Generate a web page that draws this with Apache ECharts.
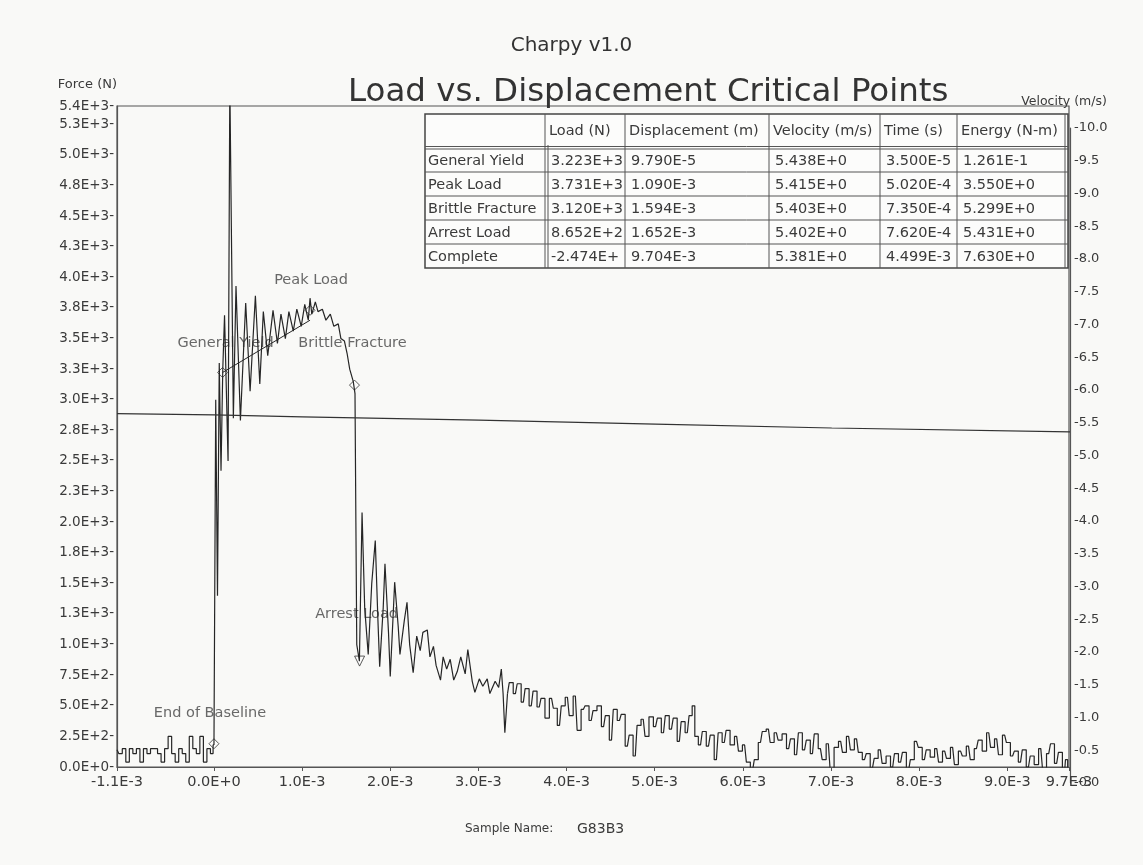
<!DOCTYPE html>
<html>
<head>
<meta charset="utf-8">
<title>Charpy v1.0 - Load vs. Displacement Critical Points</title>
<script src="https://cdn.jsdelivr.net/npm/echarts@6/dist/echarts.min.js"></script>
<style>
  html, body { margin: 0; padding: 0; background: #f9f9f7; }
  #chart { width: 1143px; height: 865px; }
</style>
</head>
<body>
<div id="chart"></div>
<script>
/* ---------- values ---------- */

// load trace: [displacement in mm (x1E-3 m), force in N]
const baselineTrace = [
  [-1.10, 140], [-1.06, 110], [-1.02, 150], [-0.98, 40], [-0.94, 150], [-0.90, 110],
  [-0.86, 150], [-0.82, 40], [-0.78, 150], [-0.74, 110], [-0.70, 150], [-0.66, 150],
  [-0.62, 110], [-0.58, 40], [-0.54, 150], [-0.50, 250], [-0.46, 110], [-0.42, 40],
  [-0.38, 150], [-0.34, 110], [-0.30, 40], [-0.26, 250], [-0.22, 150], [-0.18, 110],
  [-0.14, 250], [-0.10, 40], [-0.06, 150], [-0.02, 110], [0.00, 180]
];
const riseTrace = [
  [0.02, 3000], [0.04, 1400], [0.06, 3300], [0.08, 2420], [0.10, 3250], [0.12, 3690],
  [0.16, 2500], [0.18, 5600], [0.22, 2850], [0.25, 3930], [0.30, 2830], [0.36, 3790],
  [0.41, 3070], [0.47, 3850], [0.52, 3130], [0.56, 3720], [0.61, 3360], [0.67, 3730],
  [0.72, 3460], [0.76, 3700], [0.81, 3500], [0.85, 3720], [0.90, 3560], [0.94, 3740],
  [0.99, 3600], [1.03, 3780], [1.07, 3650], [1.09, 3830], [1.11, 3700], [1.15, 3800],
  [1.18, 3720], [1.23, 3740], [1.27, 3650], [1.32, 3700], [1.36, 3600], [1.41, 3620],
  [1.44, 3500], [1.48, 3480], [1.51, 3380], [1.54, 3250], [1.58, 3150], [1.60, 3050]
];
const arrestTrace = [
  [1.61, 2000], [1.62, 1000], [1.65, 865], [1.68, 2080], [1.71, 1300], [1.75, 920],
  [1.79, 1500], [1.83, 1850], [1.86, 1200], [1.88, 820], [1.92, 1300], [1.94, 1660],
  [1.98, 1100], [2.00, 740], [2.03, 1200], [2.05, 1510], [2.09, 1150], [2.11, 920],
  [2.16, 1200], [2.19, 1345], [2.22, 1000], [2.26, 770], [2.30, 1070], [2.34, 950],
  [2.37, 1100], [2.42, 1120], [2.45, 900], [2.49, 985], [2.52, 830], [2.57, 710],
  [2.60, 900], [2.64, 800], [2.68, 880], [2.72, 710], [2.76, 780], [2.80, 900],
  [2.85, 760], [2.88, 960], [2.93, 700], [2.96, 610], [3.01, 720], [3.05, 660],
  [3.10, 720], [3.13, 600], [3.19, 700], [3.23, 650], [3.26, 800], [3.28, 600],
  [3.30, 280], [3.33, 600]
];
const tailTrace = [
  [3.37, 690], [3.42, 600], [3.46, 680], [3.51, 530], [3.55, 640], [3.60, 500],
  [3.64, 620], [3.69, 490], [3.73, 560], [3.78, 400], [3.83, 560], [3.87, 480],
  [3.92, 340], [3.96, 500], [4.01, 570], [4.05, 420], [4.10, 580], [4.14, 300],
  [4.19, 470], [4.23, 500], [4.28, 380], [4.32, 460], [4.37, 500], [4.42, 330],
  [4.46, 420], [4.51, 220], [4.55, 470], [4.60, 380], [4.64, 430], [4.69, 170],
  [4.73, 260], [4.78, 90], [4.82, 340], [4.87, 390], [4.91, 250], [4.96, 410],
  [5.01, 330], [5.05, 400], [5.10, 280], [5.14, 420], [5.19, 310], [5.23, 400],
  [5.28, 210], [5.32, 370], [5.37, 280], [5.41, 420], [5.44, 500], [5.47, 250],
  [5.52, 180], [5.56, 290], [5.61, 170], [5.65, 260], [5.70, 60], [5.74, 280],
  [5.79, 200], [5.83, 300], [5.88, 180], [5.93, 250], [5.97, 130], [6.02, 180],
  [6.06, 40], [6.11, -30], [6.15, 60], [6.20, 200], [6.24, 290], [6.29, 310],
  [6.33, 200], [6.38, 280], [6.42, 220], [6.47, 270], [6.52, 150], [6.56, 230],
  [6.61, 100], [6.65, 280], [6.70, 140], [6.74, 220], [6.79, 110], [6.83, 270],
  [6.88, 150], [6.92, 60], [6.97, 190], [7.01, -20], [7.06, 160], [7.11, 210],
  [7.15, 120], [7.20, 250], [7.24, 140], [7.29, 230], [7.33, 120], [7.38, 60],
  [7.42, 110], [7.47, -10], [7.51, 70], [7.56, 140], [7.60, 30], [7.65, 90],
  [7.70, 0], [7.74, 110], [7.79, 40], [7.83, 120], [7.88, -30], [7.92, 60],
  [7.97, 210], [8.01, 160], [8.06, 60], [8.10, 140], [8.15, 80], [8.20, 150],
  [8.24, 40], [8.29, 130], [8.33, 70], [8.38, 160], [8.42, 20], [8.47, 130],
  [8.51, 90], [8.56, 170], [8.60, 60], [8.65, 150], [8.69, 220], [8.74, 130],
  [8.79, 280], [8.83, 160], [8.88, 230], [8.92, 100], [8.97, 260], [9.01, 200],
  [9.06, 90], [9.10, 130], [9.15, 40], [9.19, 140], [9.24, 0], [9.28, 90],
  [9.33, 20], [9.38, 150], [9.42, -20], [9.47, 110], [9.51, 190], [9.56, 30],
  [9.60, 120], [9.65, -40], [9.67, 60], [9.70, -25]
];

// general-yield slope line, end point read at the peak region
const slopeEnd = [1.09, 3650];
const baselineEnd = [0, 190];

// velocity trace (right axis)
const velDisp = [-1.1, 0, 1.0, 3.0, 5.0, 7.0, 9.7];
const velocity = [5.64, 5.62, 5.59, 5.54, 5.48, 5.42, 5.36];

// tick labels
const forceTicks = [0, 250, 500, 750, 1000, 1250, 1500, 1750, 2000, 2250, 2500, 2750,
  3000, 3250, 3500, 3750, 4000, 4250, 4500, 4750, 5000, 5250, 5400];
const dispTicks = [-1.1, 0, 1, 2, 3, 4, 5, 6, 7, 8, 9, 9.7];

// critical points table
const tblHead = ['', 'Load (N)', 'Displacement (m)', 'Velocity (m/s)', 'Time (s)', 'Energy (N-m)'];
const critNames = ['General Yield', 'Peak Load', 'Brittle Fracture', 'Arrest Load', 'Complete'];
const critLoad = ['3.223E+3', '3.731E+3', '3.120E+3', '8.652E+2', '-2.474E+'];
const critDisp = ['9.790E-5', '1.090E-3', '1.594E-3', '1.652E-3', '9.704E-3'];
const critVel = ['5.438E+0', '5.415E+0', '5.403E+0', '5.402E+0', '5.381E+0'];
const critTime = ['3.500E-5', '5.020E-4', '7.350E-4', '7.620E-4', '4.499E-3'];
const critEnergy = ['1.261E-1', '3.550E+0', '5.299E+0', '5.431E+0', '7.630E+0'];

const sampleName = 'G83B3';

/* ---------- chart ---------- */
const chart = echarts.init(document.getElementById('chart'), null, { renderer: 'canvas' });

const FONT = "'DejaVu Sans', 'Liberation Sans', sans-serif";
const INK = '#3a3a3a';
const RULE = '#555';
const TRACE = '#262626';

const fmtE = v => v.toExponential(1).toUpperCase();
const last = a => a[a.length - 1];

// label placement of the critical-point captions (offset from the marker)
const capOffset = {
  'End of Baseline': [-4, -31], 'General Yield': [3, -29], 'Peak Load': [1, -30],
  'Brittle Fracture': [-2, -42], 'Arrest Load': [-3, -47]
};

const critPts = [{ name: 'End of Baseline', value: baselineEnd }].concat(
  critNames.slice(0, 4).map((n, i) => ({
    name: n, value: [parseFloat(critDisp[i]) * 1000, parseFloat(critLoad[i])]
  }))
).map(p => Object.assign(p, {
  symbol: p.name === 'Arrest Load' ? 'triangle' : 'diamond',
  symbolRotate: p.name === 'Arrest Load' ? 180 : 0,
  label: { offset: capOffset[p.name] }
}));

/* table drawn as graphic elements */
function tableGraphic() {
  const x0 = 425, y0 = 114, colW = [120, 80, 144, 111, 77, 111], headH = 34, rowH = 24;
  const xs = [x0];
  colW.forEach(w => xs.push(xs[xs.length - 1] + w));
  const ys = [y0, y0 + headH];
  critNames.forEach(() => ys.push(ys[ys.length - 1] + rowH));
  const x1 = xs[xs.length - 1], y1 = ys[ys.length - 1];
  const line = (ax, ay, bx, by, w) => ({
    type: 'line', shape: { x1: ax, y1: ay, x2: bx, y2: by },
    style: { stroke: RULE, lineWidth: w || 1 }, silent: true
  });
  const txt = (t, x, y) => ({
    type: 'text', x, y, silent: true,
    style: { text: t, fill: INK, font: '14.5px ' + FONT, verticalAlign: 'middle', align: 'left' }
  });
  const els = [{
    type: 'rect', shape: { x: x0, y: y0, width: x1 - x0, height: y1 - y0 },
    style: { fill: '#fcfcfb', stroke: '#444', lineWidth: 1.5 }, silent: true
  }];
  // rules
  els.push(line(x0, ys[1] - 1.5, x1, ys[1] - 1.5, 1), line(x0, ys[1] + 1, x1, ys[1] + 1, 1.2));
  ys.slice(2, -1).forEach(y => els.push(line(x0, y, x1, y, 1)));
  xs.slice(1, -1).forEach((x, i) => {
    els.push(line(x, y0, x, y1, 1));
    if (i === 0) els.push(line(x + 3, y0 + headH - 3, x + 3, y1, 1));
  });
  els.push(line(x1 - 3, y0, x1 - 3, y1, 1));
  // header + rows
  tblHead.forEach((h, c) => els.push(txt(h, xs[c] + 4, y0 + headH / 2)));
  const cols = [critNames, critLoad, critDisp, critVel, critTime, critEnergy];
  critNames.forEach((_, r) => cols.forEach((col, c) =>
    els.push(txt(col[r], xs[c] + (c === 0 ? 3 : 6), ys[r + 1] + rowH / 2 + 1))));
  return els;
}

// the quantised (slow) parts of the trace are drawn stepped, the ringing parts straight
const traceSeries = (name, data, step) => ({
  name, type: 'line', xAxisIndex: 0, yAxisIndex: 0, z: 3,
  data, showSymbol: false, clip: true, step,
  lineStyle: { color: TRACE, width: 1.2 }
});

const option = {
  backgroundColor: '#f9f9f7',
  animation: false,
  textStyle: { fontFamily: FONT, color: INK },
  title: [
    { text: 'Charpy v1.0', left: 'center', top: 31,
      textStyle: { fontFamily: FONT, fontSize: 20, fontWeight: 'normal', color: '#333' } },
    { text: 'Load vs. Displacement Critical Points', left: 343, top: 71,
      textStyle: { fontFamily: FONT, fontSize: 32.5, fontWeight: 'normal', color: '#333' } }
  ],
  grid: [
    { left: 117, right: 74, top: 106, bottom: 98, show: true, borderColor: RULE, borderWidth: 1.2,
      backgroundColor: 'transparent', outerBoundsMode: 'none' },
    { left: 117, right: 73, top: 128, bottom: 82, outerBoundsMode: 'none' }
  ],
  xAxis: [
    {
      type: 'value', gridIndex: 0, min: -1.1, max: 9.7,
      axisLine: { show: true, onZero: false, lineStyle: { color: RULE, width: 1.2 } },
      axisTick: { show: true, length: 4, customValues: dispTicks, lineStyle: { color: RULE } },
      axisLabel: { customValues: dispTicks, formatter: v => fmtE(v / 1000), margin: 8,
        fontSize: 14.5, fontFamily: FONT, color: INK },
      splitLine: { show: false }
    },
    { type: 'value', gridIndex: 1, min: -1.1, max: 9.7, show: false,
      axisLine: { onZero: false } }
  ],
  yAxis: [
    {
      type: 'value', gridIndex: 0, min: 0, max: 5400,
      name: 'Force (N)', nameLocation: 'end', nameGap: 15,
      nameTextStyle: { align: 'right', fontSize: 13, fontFamily: FONT, color: INK },
      axisLine: { show: true, onZero: false, lineStyle: { color: RULE, width: 1.2 } },
      axisTick: { show: false },
      axisLabel: { customValues: forceTicks, formatter: v => fmtE(v) + '-', margin: 3,
        fontSize: 13.5, fontFamily: FONT, color: INK },
      splitLine: { show: false }
    },
    {
      type: 'value', gridIndex: 1, position: 'right', min: 0, max: 10, interval: 0.5,
      name: 'Velocity (m/s)', nameLocation: 'end', nameGap: 20,
      nameTextStyle: { fontSize: 12.5, fontFamily: FONT, color: INK, padding: [0, 12, 0, 0] },
      axisLine: { show: true, onZero: false, lineStyle: { color: RULE, width: 1.2 } },
      axisTick: { show: false },
      axisLabel: { formatter: v => '-' + v.toFixed(1), margin: 4,
        fontSize: 13, fontFamily: FONT, color: INK },
      splitLine: { show: false }
    }
  ],
  series: [
    traceSeries('Load baseline', baselineTrace, 'middle'),
    traceSeries('Load', [last(baselineTrace)].concat(riseTrace, arrestTrace), false),
    traceSeries('Load tail', [last(arrestTrace)].concat(tailTrace), 'middle'),
    {
      name: 'Yield slope', type: 'line', xAxisIndex: 0, yAxisIndex: 0, z: 3,
      data: [critPts[1].value, slopeEnd], showSymbol: false,
      lineStyle: { color: TRACE, width: 1 }
    },
    {
      name: 'Critical points', type: 'scatter', xAxisIndex: 0, yAxisIndex: 0, z: 2,
      data: critPts, symbolSize: 10,
      itemStyle: { color: '#fcfcfb', borderColor: '#333', borderWidth: 1 },
      label: { show: true, position: 'inside', formatter: p => p.name,
        fontSize: 14.5, fontFamily: FONT, color: '#444' }
    },
    {
      name: 'Velocity', type: 'line', xAxisIndex: 1, yAxisIndex: 1, z: 3,
      data: velDisp.map((d, i) => [d, velocity[i]]), showSymbol: false,
      lineStyle: { color: '#333', width: 1.2 }
    }
  ],
  graphic: tableGraphic().concat([
    { type: 'text', x: 465, y: 829, silent: true,
      style: { text: 'Sample Name:', fill: INK, font: '12px ' + FONT, verticalAlign: 'middle' } },
    { type: 'text', x: 577, y: 829, silent: true,
      style: { text: sampleName, fill: INK, font: '14px ' + FONT, verticalAlign: 'middle' } }
  ])
};

chart.setOption(option);
window.addEventListener('resize', () => chart.resize());
</script>
</body>
</html>
